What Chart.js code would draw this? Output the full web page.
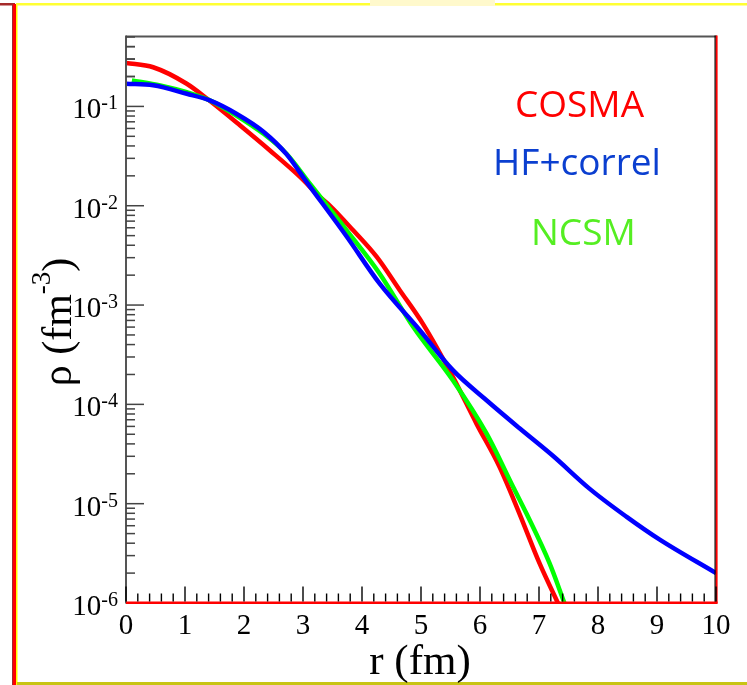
<!DOCTYPE html>
<html>
<head>
<meta charset="utf-8">
<script src="https://cdn.jsdelivr.net/npm/chart.js@4"></script>
<style>
  body { margin: 0; background: #fff; }
  #wrap { width: 747px; height: 685px; }
</style>
</head>
<body>
<div id="wrap"><canvas id="densityChart" width="747" height="685"></canvas></div>
<script>
// radius (fm) and density (fm^-3)
const rCosma = [0, 0.46, 1.03, 1.37, 1.93, 2.44, 2.95, 3.29, 3.45, 3.85, 4.25, 4.64, 5.03, 5.54, 5.94, 6.33, 6.67, 7.01, 7.32];
const rhoCosma = [0.274, 0.248, 0.169, 0.120, 0.0646, 0.036, 0.0195, 0.0122, 0.0101, 5.66e-3, 3.05e-3, 1.41e-3, 6.5e-4, 1.89e-4, 6.4e-5, 2.35e-5, 7.9e-6, 2.5e-6, 1.0e-6];

const rHf = [0, 0.46, 1.03, 1.42, 1.87, 2.33, 2.72, 3.06, 3.74, 4.30, 4.98, 5.54, 6.11, 6.67, 7.24, 7.86, 8.48, 9.04, 10];
const rhoHf = [0.169, 0.163, 0.134, 0.115, 0.0845, 0.0556, 0.0331, 0.0174, 4.9e-3, 1.64e-3, 5.57e-4, 2.21e-4, 1.10e-4, 5.75e-5, 3.02e-5, 1.41e-5, 7.41e-6, 4.37e-6, 2.0e-6];

const rNcsm = [0.1, 0.58, 1.03, 1.42, 1.87, 2.33, 2.72, 3.12, 3.74, 4.30, 4.87, 5.54, 6.11, 6.56, 6.79, 7.18, 7.43];
const rhoNcsm = [0.183, 0.163, 0.139, 0.115, 0.081, 0.053, 0.0334, 0.0166, 5.66e-3, 2.07e-3, 6.0e-4, 1.75e-4, 5.1e-5, 1.48e-5, 7.9e-6, 2.5e-6, 1.0e-6];

const xTicks = [0, 1, 2, 3, 4, 5, 6, 7, 8, 9, 10];
const yTicks = [1e-1, 1e-2, 1e-3, 1e-4, 1e-5, 1e-6];
const yTickExp = ['-1', '-2', '-3', '-4', '-5', '-6'];

function toPoints(rs, rhos) {
    return rs.map((r, i) => ({ x: r, y: rhos[i] }));
}

// marco, ticks y textos dibujados sobre las escalas de Chart.js
const framePlugin = {
    id: 'frame',
    beforeDraw(chart) {
        const ctx = chart.ctx;
        ctx.save();
        ctx.fillStyle = '#fff';
        ctx.fillRect(0, 0, 747, 685);
        // bordes de la diapositiva
        ctx.fillStyle = '#a52a2a';
        ctx.fillRect(0, 3, 15, 2.5);
        ctx.fillRect(12, 3, 1, 682);
        ctx.fillStyle = '#ff0000';
        ctx.fillRect(13, 4, 3, 681);
        ctx.fillStyle = '#ffff00';
        ctx.fillRect(16, 4, 1.5, 681);
        ctx.fillStyle = '#ffff33';
        ctx.fillRect(16, 3, 731, 2.5);
        ctx.fillStyle = '#fff9cc';
        ctx.fillRect(370, 0, 125, 6);
        ctx.fillStyle = '#c8c414';
        ctx.fillRect(17, 682, 730, 3);
        ctx.restore();
    },
    afterDraw(chart) {
        const ctx = chart.ctx;
        const xs = chart.scales.x;
        const ys = chart.scales.y;
        const a = chart.chartArea;
        ctx.save();

        // ejes
        ctx.fillStyle = '#555';
        ctx.fillRect(a.left, a.top - 1.5, a.right - a.left + 1, 2);
        ctx.fillRect(a.left - 1, a.top - 1.5, 2, a.bottom - a.top + 2);
        ctx.fillStyle = '#000';
        ctx.fillRect(a.right - 1.5, a.top - 1.5, 1.3, a.bottom - a.top + 2);
        ctx.fillStyle = '#ff0000';
        ctx.fillRect(a.right - 0.2, a.top - 1.5, 1.8, a.bottom - a.top + 2);
        ctx.fillRect(a.left, a.bottom - 1.5, a.right - a.left + 1.5, 2.5);

        // ticks del eje x
        ctx.fillStyle = '#000';
        for (let v = 0; v <= 10.001; v += 0.2) {
            const px = xs.getPixelForValue(v);
            const major = Math.abs(v - Math.round(v)) < 0.01;
            const len = major ? 15 : 8;
            ctx.fillRect(px - 0.7, a.bottom - 1.5 - len, 1.4, len);
        }
        // ticks del eje y
        ctx.fillStyle = '#444';
        for (let e = -6; e <= -1; e++) {
            for (let m = 1; m <= 9; m++) {
                const v = m * Math.pow(10, e);
                if (v > 0.5 || (e === -6 && m === 1)) continue;
                const py = ys.getPixelForValue(v);
                const len = m === 1 ? 18 : 9;
                ctx.fillRect(a.left, py - 0.75, len, 1.5);
            }
        }
        [0.2, 0.3, 0.4].forEach(v => {
            const py = ys.getPixelForValue(v);
            ctx.fillRect(a.left, py - 0.75, 9, 1.5);
        });

        // etiquetas del eje x
        ctx.fillStyle = '#000';
        ctx.font = '29px "Liberation Serif", "DejaVu Serif", serif';
        ctx.textAlign = 'center';
        ctx.textBaseline = 'alphabetic';
        xTicks.forEach(t => {
            ctx.fillText(String(t), xs.getPixelForValue(t), a.bottom + 31);
        });

        // etiquetas del eje y (10 con exponente)
        yTicks.forEach((t, i) => {
            const py = ys.getPixelForValue(t);
            ctx.font = '20px "Liberation Serif", serif';
            const expW = ctx.measureText(yTickExp[i]).width;
            ctx.textAlign = 'right';
            ctx.fillText(yTickExp[i], 118, py + 3);
            ctx.font = '29px "Liberation Serif", serif';
            ctx.fillText('10', 118 - expW, py + 12);
        });

        // titulo eje x
        ctx.font = '43px "Liberation Serif", serif';
        ctx.textAlign = 'center';
        ctx.fillText('r (fm)', 420, 674);

        // titulo eje y (rotado)
        ctx.save();
        ctx.translate(71, 322);
        ctx.rotate(-Math.PI / 2);
        ctx.textAlign = 'left';
        const big = '42px "Liberation Serif", serif';
        const small = '27px "Liberation Serif", serif';
        ctx.font = big;
        const w1 = ctx.measureText('\u03C1 (fm').width;
        const w3 = ctx.measureText(')').width;
        ctx.font = small;
        const w2 = ctx.measureText('-3').width;
        let x0 = -(w1 + w2 + w3) / 2;
        ctx.font = big;
        ctx.fillText('\u03C1 (fm', x0, 0);
        ctx.font = small;
        ctx.fillText('-3', x0 + w1, -21);
        ctx.font = big;
        ctx.fillText(')', x0 + w1 + w2, 0);
        ctx.restore();

        // leyenda en texto
        ctx.textAlign = 'left';
        ctx.font = '37px "Open Sans", "Noto Sans", sans-serif';
        ctx.fillStyle = '#ff0000';
        ctx.fillText('COSMA', 515, 117);
        ctx.fillStyle = '#0b3fd0';
        ctx.fillText('HF+correl', 493, 175);
        ctx.fillStyle = '#55ee22';
        ctx.fillText('NCSM', 531, 245);

        ctx.restore();
    }
};

function lineSet(label, data, color) {
    return {
        label: label,
        data: data,
        showLine: true,
        borderColor: color,
        backgroundColor: color,
        borderWidth: 4.5,
        pointRadius: 0,
        cubicInterpolationMode: 'monotone',
        fill: false
    };
}

document.addEventListener('DOMContentLoaded', function() {
    const ctx = document.getElementById('densityChart').getContext('2d');
    new Chart(ctx, {
        type: 'scatter',
        data: {
            datasets: [
                lineSet('HF+correl', toPoints(rHf, rhoHf), '#0000ff'),
                lineSet('NCSM', toPoints(rNcsm, rhoNcsm), '#00ff00'),
                lineSet('COSMA', toPoints(rCosma, rhoCosma), '#ff0000')
            ]
        },
        options: {
            responsive: false,
            animation: false,
            layout: { padding: { left: 126, right: 31, top: 37, bottom: 82 } },
            plugins: {
                legend: { display: false },
                tooltip: { enabled: false }
            },
            scales: {
                x: { type: 'linear', min: 0, max: 10, display: false },
                y: { type: 'logarithmic', min: 1e-6, max: 0.5, display: false }
            }
        },
        plugins: [framePlugin]
    });
});
</script>
</body>
</html>
